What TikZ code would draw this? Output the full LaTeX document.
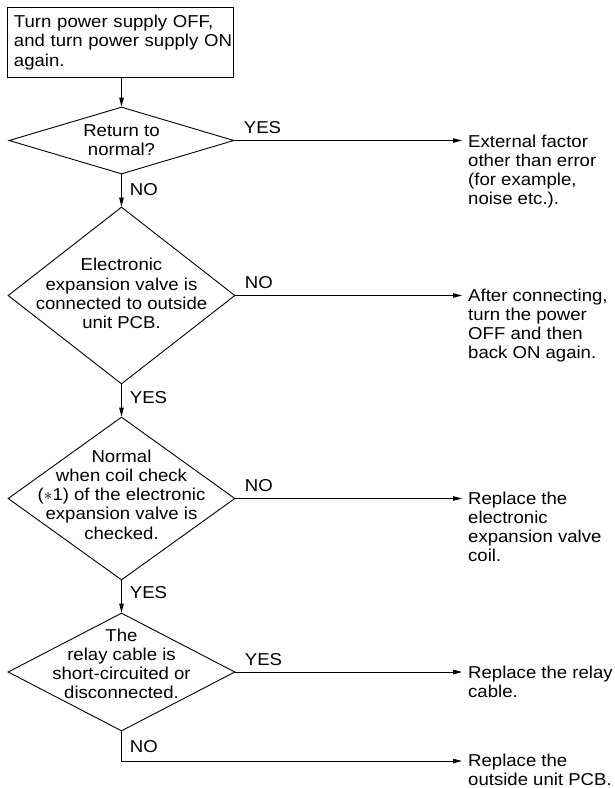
\documentclass[tikz,border=0pt]{standalone}
\usepackage{fontspec}
\setmainfont{Liberation Sans}[FakeStretch=1.08]
\usetikzlibrary{shapes.geometric,arrows.meta}
\begin{document}
\begin{tikzpicture}[x=1pt,y=1pt,
  font=\fontsize{17.2}{19.2}\selectfont,
  dia/.style={draw, diamond, inner sep=0pt, line width=0.9pt},
  txt/.style={align=center, inner sep=0pt},
  outtxt/.style={align=left, anchor=north west, inner sep=0pt},
  lab/.style={inner sep=0pt, anchor=base west},
  arr/.style={-{Triangle[length=9pt,width=4.5pt]}, line width=0.9pt},
  startbox/.style={draw, line width=0.9pt, anchor=north west, text width=213pt,
    inner xsep=6.5pt, inner ysep=0pt, minimum height=70pt, align=left}]
\useasboundingbox (0,0) rectangle (615,-788);

\node[startbox] (b) at (7,-7) {\mbox{Turn power supply OFF,}\\\mbox{and turn power supply ON}\\again.};

\node[dia, minimum width=225pt, minimum height=67pt] (d1) at (121.5,-140.5) {};
\node[txt] (d1t) at (d1) {Return to\\normal?};

\node[dia, minimum width=227pt, minimum height=177pt] (d2) at (121.5,-295.5) {};
\node[txt] (d2t) at ([yshift=2pt]d2.center) {Electronic\\expansion valve is\\connected to outside\\unit PCB.};

\node[dia, minimum width=227pt, minimum height=163pt] (d3) at (121.5,-498.5) {};
\node[txt] (d3t) at ([yshift=4pt]d3.center) {Normal\\when coil check\\(${*}$1) of the electronic\\expansion valve is\\checked.};

\node[dia, minimum width=227pt, minimum height=118pt] (d4) at (121.5,-672) {};
\node[txt] (d4t) at ([yshift=8pt]d4.center) {The\\relay cable is\\short-circuited or\\disconnected.};

\node[outtxt] (t1) at (468,-134.5) {External factor\\other than error\\(for example,\\noise etc.).};
\node[outtxt] (t2) at (468,-288.5) {After connecting,\\turn the power\\OFF and then\\back ON again.};
\node[outtxt] (t3) at (468,-491.5) {Replace the\\electronic\\expansion valve\\coil.};
\node[outtxt] (t4) at (468,-665.5) {Replace the relay\\cable.};
\node[outtxt] (t5) at (468,-754) {Replace the\\outside unit PCB.};

\coordinate (c5) at (121.5,-761);

\draw[arr] (b.south -| d1.north) -- (d1.north);
\draw[arr] (d1.south) -- node[lab, at start, xshift=8pt, yshift=-21pt] {NO} (d2.north);
\draw[arr] (d2.south) -- node[lab, at start, xshift=8pt, yshift=-19pt] {YES} (d3.north);
\draw[arr] (d3.south) -- node[lab, at start, xshift=8pt, yshift=-18pt] {YES} (d4.north);

\draw[arr, shorten >=6pt] (d1.east) -- node[lab, at start, xshift=9pt, yshift=7pt] {YES} (t1.west |- d1.east);
\draw[arr, shorten >=6pt] (d2.east) -- node[lab, at start, xshift=9pt, yshift=7pt] {NO} (t2.west |- d2.east);
\draw[arr, shorten >=6pt] (d3.east) -- node[lab, at start, xshift=9pt, yshift=7pt] {NO} (t3.west |- d3.east);
\draw[arr, shorten >=6pt] (d4.east) -- node[lab, at start, xshift=9pt, yshift=7pt] {YES} (t4.west |- d4.east);
\draw[arr, shorten >=6pt] (d4.south) -- node[lab, at start, xshift=8pt, yshift=-21pt] {NO} (c5) -- (t5.west |- c5);
\end{tikzpicture}
\end{document}
